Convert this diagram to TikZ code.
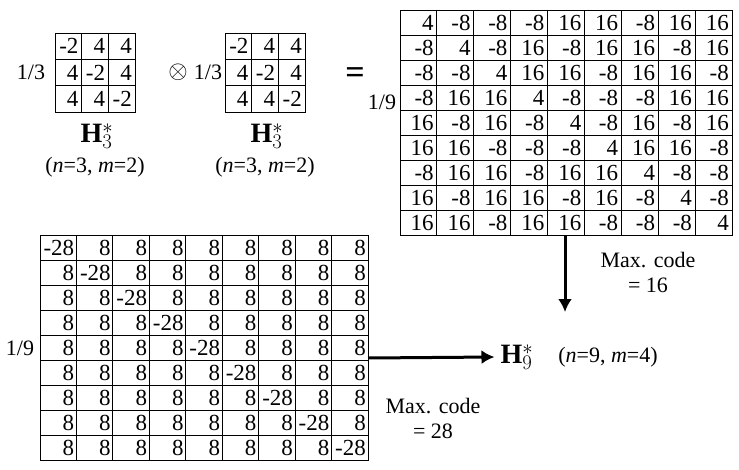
\documentclass[tikz,border=0pt]{standalone}
\usepackage{fontspec}
\setmainfont{Liberation Serif}
\usetikzlibrary{arrows.meta}
\begin{document}
\begin{tikzpicture}[x=1pt,y=-1pt,
  mbox/.style={draw,thick,inner sep=0pt,anchor=north west},
  num/.style={anchor=east,inner sep=0pt,font=\fontsize{23}{25}\selectfont},
  lbl/.style={inner sep=0pt,font=\fontsize{22}{25}\selectfont},
  hl/.style={inner sep=0pt,font=\fontsize{28}{30}\selectfont},
  arr/.style={line width=3pt,-{Latex[length=13pt,width=14pt]}}]
\useasboundingbox (0,0) rectangle (739,469);
% small matrices
\foreach \nm/\x in {ma/55,mb/225}{
  \node[mbox,minimum width=80pt,minimum height=79pt] (\nm) at (\x,33) {};
  \foreach \i in {1,2}{
    \draw[thick] (\x+\i*80/3,33) -- (\x+\i*80/3,112);
    \draw[thick] (\x,33+\i*79/3) -- (\x+80,33+\i*79/3);}
  \foreach \row [count=\r] in {{-2,4,4},{4,-2,4},{4,4,-2}}{
    \foreach \v [count=\c] in \row {
      \node[num] at (\x+\c*80/3-3,33+\r*79/3-79/6) {\v};}}
}
\node[lbl] (t1) at (31,72) {1/3};
\node[lbl] (t2) at (208,72) {1/3};
\node[hl,font=\fontsize{32}{32}\selectfont] (ot) at (178,72) {$\otimes$};
\node[lbl,font=\fontsize{34}{34}\selectfont\bfseries] (eq) at (355,76) {=};
\node[hl] (h1) at (97,136) {$\mathbf{H}^{*}_{3}$};
\node[hl] (h2) at (267,136) {$\mathbf{H}^{*}_{3}$};
\node[lbl] (p1) at (95,167) {(\textit{n}=3, \textit{m}=2)};
\node[lbl] (p2) at (265,167) {(\textit{n}=3, \textit{m}=2)};
% top right 9x9
\node[mbox,minimum width=332pt,minimum height=225pt] (mc) at (400,10) {};
\foreach \i in {1,...,8}{
  \draw[thick] (400+\i*332/9,10) -- (400+\i*332/9,235);
  \draw[thick] (400,10+\i*25) -- (732,10+\i*25);}
\foreach \row [count=\r] in {
 {4,-8,-8,-8,16,16,-8,16,16},
 {-8,4,-8,16,-8,16,16,-8,16},
 {-8,-8,4,16,16,-8,16,16,-8},
 {-8,16,16,4,-8,-8,-8,16,16},
 {16,-8,16,-8,4,-8,16,-8,16},
 {16,16,-8,-8,-8,4,16,16,-8},
 {-8,16,16,-8,16,16,4,-8,-8},
 {16,-8,16,16,-8,16,-8,4,-8},
 {16,16,-8,16,16,-8,-8,-8,4}}{
  \foreach \v [count=\c] in \row {
    \node[num] at (400+\c*332/9-3,10+\r*25-12.5) {\v};}}
\node[lbl] (t3) at (382,102) {1/9};
% bottom 9x9
\node[mbox,minimum width=328pt,minimum height=225pt] (md) at (40,235) {};
\foreach \i in {1,...,8}{
  \draw[thick] (40+\i*328/9,235) -- (40+\i*328/9,460);
  \draw[thick] (40,235+\i*25) -- (368,235+\i*25);}
\foreach \r in {1,...,9}{
  \foreach \c in {1,...,9}{
    \ifnum\r=\c \def\v{-28}\else\def\v{8}\fi
    \node[num] at (40+\c*328/9-2,235+\r*25-12.5) {\v};}}
\node[lbl] (t4) at (20,348) {1/9};
% arrows and labels
\coordinate (vs) at (565,235);
\coordinate (ve) at (565,312);
\draw[arr] (vs) -- (ve);
\node[lbl,align=center] (mx1) at (648,272) {Max. code\\= 16};
\node[hl] (h9) at (517,357) {$\mathbf{H}^{*}_{9}$};
\node[lbl] (p9) at (608,357) {(\textit{n}=9, \textit{m}=4)};
\coordinate (hs) at (368,358);
\draw[arr] (hs) -- ([xshift=-6pt]h9.west);
\node[lbl,align=center] (mx2) at (433,418) {Max. code\\= 28};
\end{tikzpicture}
\end{document}
